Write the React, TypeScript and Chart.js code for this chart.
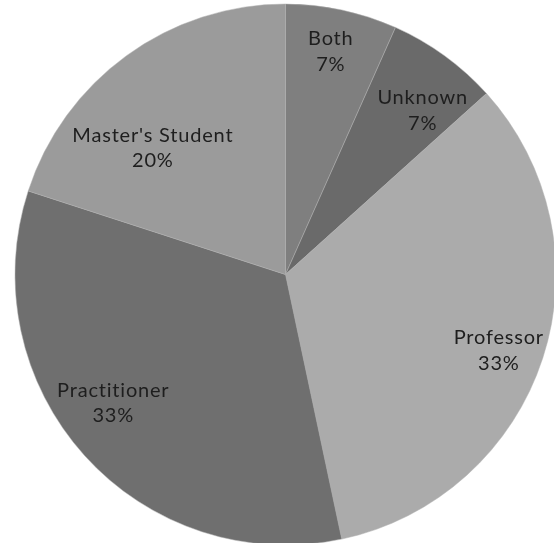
import React, { useEffect, useRef } from "react";
import { Chart, registerables } from "chart.js";

Chart.register(...registerables);

const categories = ["Both", "Unknown", "Professor", "Practitioner", "Master's Student"];
const counts = [1, 1, 5, 5, 3];
const percentLabels = ["7%", "7%", "33%", "33%", "20%"];
const sliceColors = ["#7f7f7f", "#6a6a6a", "#ababab", "#6f6f6f", "#9b9b9b"];

// label anchor relative to each slice: angle offset (deg) from slice middle, radius fraction
const labelAnchors = [
  { dAngle: -0.6, frac: 0.84 },
  { dAngle: 3.8, frac: 0.79 },
  { dAngle: 1.7, frac: 0.836 },
  { dAngle: 5.3, frac: 0.796 },
  { dAngle: -10.5, frac: 0.678 },
];

const FONT = "Lato, sans-serif";

const sliceLabelPlugin = {
  id: "sliceLabels",
  afterDatasetsDraw(chart: any) {
    const ctx = chart.ctx;
    const meta = chart.getDatasetMeta(0);
    ctx.save();
    ctx.fillStyle = "#1e1e1e";
    ctx.font = `20px ${FONT}`;
    try {
      (ctx as any).letterSpacing = "0.8px";
    } catch (e) {}
    ctx.textAlign = "center";
    ctx.textBaseline = "middle";
    meta.data.forEach((arc: any, i: number) => {
      const p = arc.getProps(["x", "y", "startAngle", "endAngle", "outerRadius"], true);
      const mid = (p.startAngle + p.endAngle) / 2 + (labelAnchors[i].dAngle * Math.PI) / 180;
      const r = p.outerRadius * labelAnchors[i].frac;
      const cx = p.x + Math.cos(mid) * r + 0.4;
      const cy = p.y + Math.sin(mid) * r;
      ctx.fillText(categories[i], cx, cy - 12.75);
      ctx.fillText(percentLabels[i], cx, cy + 12.75);
    });
    ctx.restore();
  },
};

export default function App() {
  const canvasRef = useRef<HTMLCanvasElement | null>(null);

  useEffect(() => {
    if (!canvasRef.current) return;
    const chart = new Chart(canvasRef.current, {
      type: "pie",
      data: {
        labels: categories,
        datasets: [
          {
            data: counts,
            backgroundColor: sliceColors,
            borderColor: "rgba(175,175,175,0.5)",
            borderWidth: 1,
          },
        ],
      },
      options: {
        responsive: false,
        animation: false,
        layout: { padding: { left: 14.5, right: 3.5, top: 3.5, bottom: 0.5 } },
        plugins: {
          legend: { display: false },
          tooltip: { enabled: false },
        },
      },
      plugins: [sliceLabelPlugin],
    });
    return () => chart.destroy();
  }, []);

  return (
    <div
      style={{
        position: "fixed",
        left: 0,
        top: 0,
        width: 554,
        height: 543,
        overflow: "hidden",
        background: "#ffffff",
      }}
    >
      <canvas ref={canvasRef} width={560} height={546} />
    </div>
  );
}
